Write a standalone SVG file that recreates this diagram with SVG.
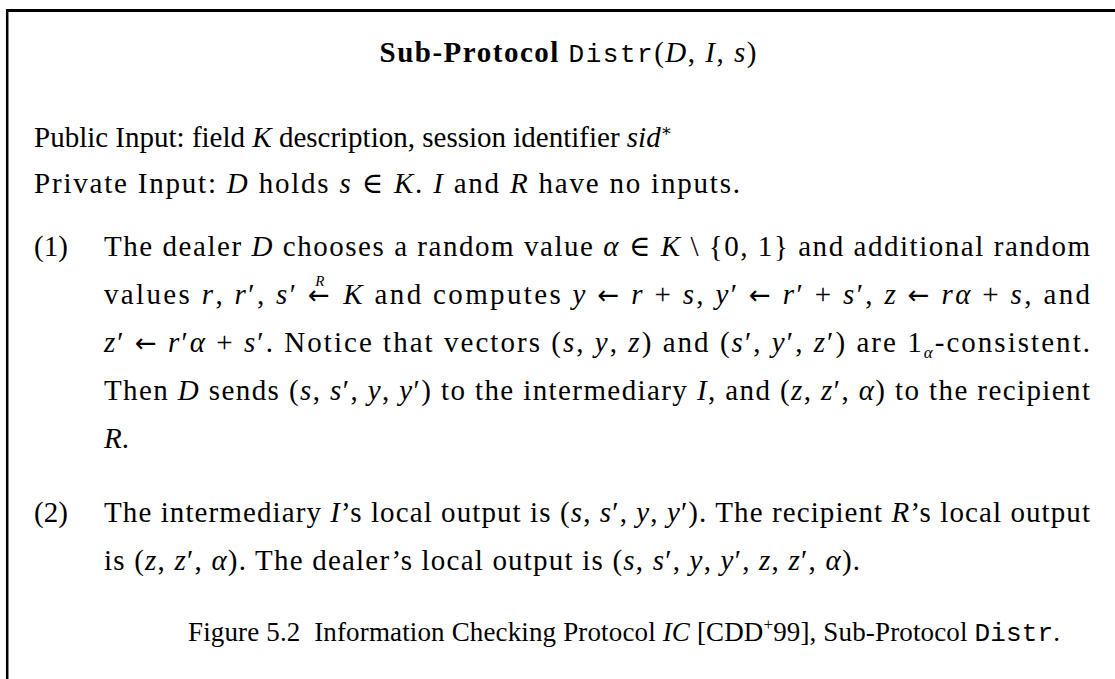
<svg xmlns="http://www.w3.org/2000/svg" width="1115" height="679" viewBox="0 0 1115 679">
  <style>
    text { font-family: "Liberation Serif", "DejaVu Serif", serif; font-size: 29px; fill: #000; }
    .i { font-style: italic; }
    .b { font-weight: bold; }
    .tt { font-family: "Liberation Mono", "DejaVu Sans Mono", monospace; font-size: 26px; }
    .ar { font-family: "DejaVu Sans", sans-serif; font-size: 26px; }
    .sm { font-size: 17px; }
    .xs { font-size: 15px; }
    .cap { font-size: 27px; }
    .frame { stroke: #000; fill: none; }
  </style>
  <rect width="1115" height="679" fill="#fff"/>

  <!-- box frame: top rule and left rule -->
  <g id="frame">
    <line class="frame" x1="6" y1="10.5" x2="1115" y2="10.5" stroke-width="3"/>
    <line class="frame" x1="7.2" y1="9" x2="7.2" y2="679" stroke-width="2.5"/>
  </g>

  <g id="title">
    <text x="568" y="62" text-anchor="middle" textLength="377" lengthAdjust="spacing"><tspan class="b">Sub-Protocol</tspan> <tspan class="tt">Distr</tspan>(<tspan class="i">D</tspan>, <tspan class="i">I</tspan>, <tspan class="i">s</tspan>)</text>
  </g>

  <g id="inputs">
    <text x="34" y="147">Public Input: field <tspan class="i">K</tspan> description, session identifier <tspan class="i">sid</tspan><tspan class="sm" dy="-11">∗</tspan></text>
    <text x="34" y="193" textLength="706" lengthAdjust="spacing">Private Input: <tspan class="i">D</tspan> holds <tspan class="i">s</tspan> ∈ <tspan class="i">K</tspan>.  <tspan class="i">I</tspan> and <tspan class="i">R</tspan> have no inputs.</text>
  </g>

  <g id="step1">
    <text x="34" y="256">(1)</text>
    <text x="104" y="256" textLength="986" lengthAdjust="spacing">The dealer <tspan class="i">D</tspan> chooses a random value <tspan class="i">α</tspan> ∈ <tspan class="i">K</tspan> \ {0, 1} and additional random</text>
    <text x="104" y="304" textLength="986" lengthAdjust="spacing">values <tspan class="i">r</tspan>, <tspan class="i">r</tspan>′, <tspan class="i">s</tspan>′ <tspan class="ar">←</tspan><tspan class="i xs" dx="-17" dy="-18">R</tspan><tspan dx="7" dy="18"> </tspan><tspan class="i">K</tspan> and computes <tspan class="i">y</tspan> <tspan class="ar">←</tspan> <tspan class="i">r</tspan> + <tspan class="i">s</tspan>, <tspan class="i">y</tspan>′ <tspan class="ar">←</tspan> <tspan class="i">r</tspan>′ + <tspan class="i">s</tspan>′, <tspan class="i">z</tspan> <tspan class="ar">←</tspan> <tspan class="i">rα</tspan> + <tspan class="i">s</tspan>, and</text>
    <text x="104" y="352" textLength="986" lengthAdjust="spacing"><tspan class="i">z</tspan>′ <tspan class="ar">←</tspan> <tspan class="i">r</tspan>′<tspan class="i">α</tspan> + <tspan class="i">s</tspan>′.  Notice that vectors (<tspan class="i">s</tspan>, <tspan class="i">y</tspan>, <tspan class="i">z</tspan>) and (<tspan class="i">s</tspan>′, <tspan class="i">y</tspan>′, <tspan class="i">z</tspan>′) are 1<tspan class="i sm" dy="6">α</tspan><tspan dy="-6">-consistent.</tspan></text>
    <text x="104" y="400" textLength="986" lengthAdjust="spacing">Then <tspan class="i">D</tspan> sends (<tspan class="i">s</tspan>, <tspan class="i">s</tspan>′, <tspan class="i">y</tspan>, <tspan class="i">y</tspan>′) to the intermediary <tspan class="i">I</tspan>, and (<tspan class="i">z</tspan>, <tspan class="i">z</tspan>′, <tspan class="i">α</tspan>) to the recipient</text>
    <text x="104" y="448"><tspan class="i">R</tspan>.</text>
  </g>

  <g id="step2">
    <text x="34" y="522">(2)</text>
    <text x="104" y="522" textLength="986" lengthAdjust="spacing">The intermediary <tspan class="i">I</tspan>’s local output is (<tspan class="i">s</tspan>, <tspan class="i">s</tspan>′, <tspan class="i">y</tspan>, <tspan class="i">y</tspan>′).  The recipient <tspan class="i">R</tspan>’s local output</text>
    <text x="104" y="570" textLength="756" lengthAdjust="spacing">is (<tspan class="i">z</tspan>, <tspan class="i">z</tspan>′, <tspan class="i">α</tspan>).  The dealer’s local output is (<tspan class="i">s</tspan>, <tspan class="i">s</tspan>′, <tspan class="i">y</tspan>, <tspan class="i">y</tspan>′, <tspan class="i">z</tspan>, <tspan class="i">z</tspan>′, <tspan class="i">α</tspan>).</text>
  </g>

  <g id="caption">
    <text class="cap" x="188" y="641" textLength="872" lengthAdjust="spacing" xml:space="preserve">Figure 5.2  Information Checking Protocol <tspan class="i">IC</tspan> [CDD<tspan class="sm" dy="-11">+</tspan><tspan dy="11">99], Sub-Protocol </tspan><tspan class="tt">Distr</tspan>.</text>
  </g>
</svg>
